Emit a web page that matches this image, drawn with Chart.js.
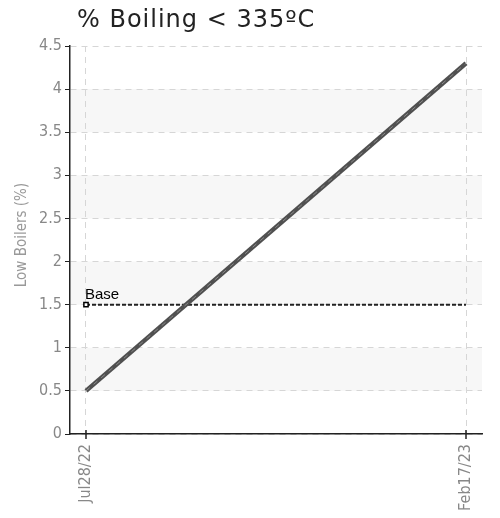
<!DOCTYPE html>
<html>
<head>
<meta charset="utf-8">
<script src="https://cdn.jsdelivr.net/npm/chart.js@4/dist/chart.umd.min.js"></script>
<style>
  body { margin: 0; background: #fff; }
  #wrap { width: 500px; height: 518px; }
</style>
</head>
<body>
<div id="wrap"><canvas id="chart" width="500" height="518"></canvas></div>
<script>
const dateLabels = ["Jul28/22", "Feb17/23"];
const lowBoilers = [0.5, 4.3];
const baseValues = [1.5, 1.5];
const yTicks = [0, 0.5, 1, 1.5, 2, 2.5, 3, 3.5, 4, 4.5];
const bandRanges = [[0.5, 1], [1.5, 2], [2.5, 3], [3.5, 4]];

// "condensed" goes into the weight slot so the font string becomes "normal condensed 15px ..."
const narrowFont = (size) => ({ family: "'DejaVu Sans', sans-serif", size: size, weight: "normal condensed" });

const toPoints = (vals) => vals.map((v, i) => ({ x: i, y: v }));

// grey bands behind the grid
const bandsPlugin = {
  id: "bands",
  beforeDraw: (chart) => {
    const { ctx, chartArea, scales } = chart;
    ctx.save();
    ctx.fillStyle = "#f7f7f7";
    bandRanges.forEach(([lo, hi]) => {
      const yTop = scales.y.getPixelForValue(hi);
      const yBot = scales.y.getPixelForValue(lo);
      ctx.fillRect(chartArea.left, yTop, chartArea.right - chartArea.left, yBot - yTop);
    });
    ctx.restore();
  },
};

// title, y axis title, base label
const textPlugin = {
  id: "texts",
  afterDraw: (chart) => {
    const { ctx, scales } = chart;
    ctx.save();
    ctx.fillStyle = "#222";
    ctx.font = "24px 'DejaVu Sans', sans-serif";
    if ("letterSpacing" in ctx) ctx.letterSpacing = "1px";
    ctx.textBaseline = "alphabetic";
    ctx.fillText("% Boiling < 335\u00baC", 77, 27);
    if ("letterSpacing" in ctx) ctx.letterSpacing = "0px";

    ctx.fillStyle = "#000";
    ctx.font = "15px 'Liberation Sans', sans-serif";
    ctx.fillText("Base", scales.x.getPixelForValue(0) - 1, scales.y.getPixelForValue(baseValues[0]) - 6);

    ctx.save();
    ctx.translate(22, 235);
    ctx.rotate(-Math.PI / 2);
    ctx.fillStyle = "#999";
    ctx.font = "normal condensed 15px 'DejaVu Sans', sans-serif";
    ctx.textAlign = "center";
    ctx.textBaseline = "middle";
    ctx.fillText("Low Boilers (%)", 0, 0);
    ctx.restore();

    // tick marks crossing the x axis
    ctx.strokeStyle = "#222";
    ctx.lineWidth = 1.5;
    dateLabels.forEach((_, i) => {
      const x = scales.x.getPixelForValue(i);
      const y = scales.y.getPixelForValue(0);
      ctx.beginPath();
      ctx.moveTo(x, y - 4);
      ctx.lineTo(x, y + 5);
      ctx.stroke();
    });
    ctx.restore();
  },
};

new Chart(document.getElementById("chart"), {
  type: "line",
  data: {
    datasets: [
      {
        label: "Base",
        data: toPoints(baseValues),
        borderColor: "#222",
        borderWidth: 2,
        borderDash: [4, 2],
        pointStyle: "rect",
        pointRadius: [3, 0],
        pointBackgroundColor: "#fff",
        pointBorderColor: "#000",
        pointBorderWidth: 1.5,
        order: 2,
      },
      {
        label: "Low Boilers",
        data: toPoints(lowBoilers),
        borderColor: "#505050",
        borderWidth: 4.5,
        pointRadius: 0,
        order: 1,
      },
      {
        label: "Low Boilers dash",
        data: toPoints(lowBoilers),
        borderColor: "#8a8a8a",
        borderWidth: 1,
        borderDash: [5, 5],
        pointRadius: 0,
        order: 0,
      },
    ],
  },
  options: {
    responsive: false,
    animation: false,
    events: [],
    layout: { padding: { top: 46, right: 18, left: 0, bottom: 0 } },
    plugins: {
      legend: { display: false },
      tooltip: { enabled: false },
    },
    scales: {
      x: {
        type: "linear",
        min: -0.0421,
        max: 1.0421,
        afterBuildTicks: (axis) => {
          axis.ticks = dateLabels.map((_, i) => ({ value: i }));
        },
        afterFit: (axis) => {
          axis.height = 84;
        },
        // in v4 border.dash is used for the grid lines
        border: { color: "#222", width: 1.5, dash: [6, 5] },
        grid: {
          color: "#d6d6d6",
          tickLength: 0,
          drawTicks: false,
        },
        ticks: {
          autoSkip: false,
          maxRotation: 90,
          minRotation: 90,
          padding: 10,
          color: "#888",
          font: narrowFont(16),
          callback: (v) => dateLabels[v],
        },
      },
      y: {
        min: 0,
        max: 4.5,
        afterBuildTicks: (axis) => {
          axis.ticks = yTicks.map((v) => ({ value: v }));
        },
        afterFit: (axis) => {
          axis.width = 70;
        },
        border: { color: "#222", width: 1.5, dash: [6, 5] },
        grid: {
          color: "#d6d6d6",
          tickColor: "#222",
          tickLength: 5,
          tickBorderDash: [],
        },
        ticks: {
          padding: 3,
          color: "#888",
          font: narrowFont(16),
          callback: (v) => String(v),
        },
      },
    },
  },
  plugins: [bandsPlugin, textPlugin],
});
</script>
</body>
</html>
